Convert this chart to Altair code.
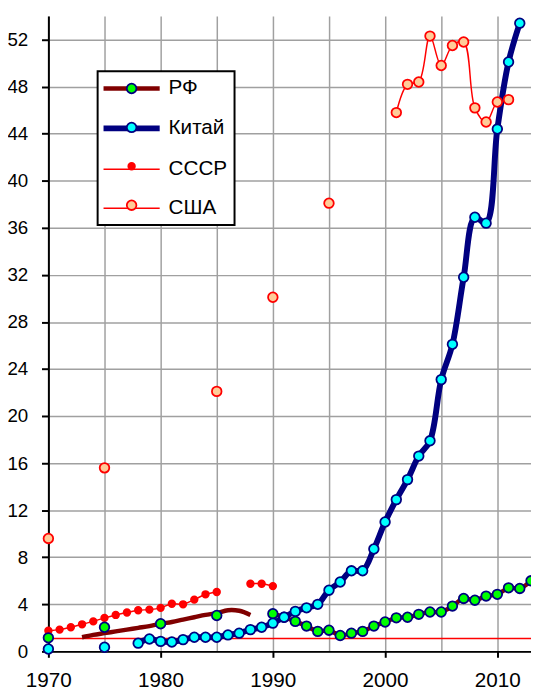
import altair as alt
import pandas as pd

# ---- data ----
series_names = ["РФ", "Китай", "СССР", "США"]
line_colors = ["#800000", "#000080", "#ff0000", "#ff0000"]
line_widths = [4.5, 6, 1.5, 1.5]
marker_fill = ["#00ff00", "#00ffff", "#ff0000", "#ffcc99"]
marker_stroke = ["#000080", "#000080", "#ff0000", "#ff0000"]
marker_size = [95, 95, 45, 95]

rf_years = [1970, 1975, 1980, 1985,
            1990, 1991, 1992, 1993, 1994, 1995, 1996, 1997, 1998, 1999,
            2000, 2001, 2002, 2003, 2004, 2005, 2006, 2007, 2008, 2009,
            2010, 2011, 2012, 2013]
rf_values = [1.15, 2.05, 2.35, 3.05,
             3.2, 2.9, 2.55, 2.15, 1.7, 1.8, 1.35, 1.55, 1.7, 2.15,
             2.5, 2.85, 2.9, 3.15, 3.35, 3.35, 3.85, 4.5, 4.35, 4.7,
             4.85, 5.4, 5.35, 6.0]

rf_trend_years = [1973, 1974, 1975, 1976, 1977, 1978, 1979, 1980,
                  1981, 1982, 1983, 1984, 1985, 1986, 1987, 1988]
rf_trend_values = [1.2, 1.4, 1.55, 1.7, 1.85, 2.0, 2.15, 2.35,
                   2.5, 2.7, 2.9, 3.1, 3.25, 3.5, 3.45, 3.1]

cn_years = [1970, 1975, 1978, 1979, 1980, 1981, 1982, 1983, 1984, 1985,
            1986, 1987, 1988, 1989, 1990, 1991, 1992, 1993, 1994, 1995,
            1996, 1997, 1998, 1999, 2000, 2001, 2002, 2003, 2004, 2005,
            2006, 2007, 2008, 2009, 2010, 2011, 2012]
cn_values = [0.2, 0.35, 0.7, 1.05, 0.85, 0.8, 1.0, 1.2, 1.2, 1.2,
             1.4, 1.55, 1.85, 2.05, 2.4, 2.9, 3.4, 3.7, 4.0, 5.2,
             5.9, 6.85, 6.85, 8.7, 11.0, 12.9, 14.6, 16.6, 17.9, 23.1,
             26.1, 31.8, 36.9, 36.4, 44.4, 50.1, 53.4]

su_years = [1970, 1971, 1972, 1973, 1974, 1975, 1976, 1977, 1978, 1979,
            1980, 1981, 1982, 1983, 1984, 1985, 1988, 1989, 1990]
su_values = [1.75, 1.85, 2.05, 2.3, 2.55, 2.85, 3.1, 3.3, 3.5, 3.55,
             3.7, 4.05, 4.0, 4.4, 4.85, 5.05, 5.75, 5.75, 5.55]

us_years = [1970, 1975, 1985, 1990, 1995,
            2001, 2002, 2003, 2004, 2005, 2006, 2007, 2008, 2009, 2010, 2011]
us_values = [9.6, 15.6, 22.1, 30.1, 38.1,
             45.8, 48.2, 48.4, 52.3, 49.8, 51.5, 51.8, 46.2, 45.0, 46.7, 46.9]

ref_level = [1.1]

x_ticks = [1970, 1975, 1980, 1985, 1990, 1995, 2000, 2005, 2010]
y_ticks = list(range(0, 56, 2))

# ---- build table ----
lw_of = dict(zip(series_names, line_widths))
ms_of = dict(zip(series_names, marker_size))
rows = []


def add(series, years, values, marker, tag):
    seg = 0
    prev = None
    for yr, v in zip(years, values):
        if prev is not None and yr - prev > 1:
            seg += 1
        rows.append({"series": series, "year": yr, "value": v,
                     "seg": f"{tag}{seg}", "marker": marker,
                     "lw": lw_of[series], "ms": ms_of[series]})
        prev = yr


add("США", us_years, us_values, True, "us")
add("СССР", su_years, su_values, True, "su")
add("РФ", rf_trend_years, rf_trend_values, False, "rft")
add("РФ", rf_years, rf_values, True, "rf")
add("Китай", cn_years, cn_values, True, "cn")
df = pd.DataFrame(rows)
ref_df = pd.DataFrame({"level": ref_level})


def per_entry(values):
    # expression choosing a value per legend entry
    expr = str(values[-1])
    for name, v in reversed(list(zip(series_names[:-1], values[:-1]))):
        expr = f"datum.value === '{name}' ? {v} : ({expr})"
    return {"expr": expr}


FONT = "Liberation Sans"

x_enc = alt.X(
    "year:Q",
    scale=alt.Scale(domain=[1970, 2013], nice=False, zero=False),
    axis=alt.Axis(
        values=x_ticks, format="d",
        labelExpr="datum.value % 10 === 0 ? datum.label : ''",
        grid=True, gridColor="#a0a0a0", gridWidth=1.5,
        domainColor="black", domainWidth=2,
        tickColor="black", tickWidth=2,
        tickSize={"condition": {"test": "datum.value % 10 === 0", "value": 6}, "value": 0},
        labelFontSize=21, labelFont=FONT, labelColor="black", labelPadding=13,
        labelFlush=False, labelOverlap=False, title=None,
    ),
)
y_enc = alt.Y(
    "value:Q",
    scale=alt.Scale(domain=[0, 54], nice=False, zero=True),
    axis=alt.Axis(
        values=y_ticks,
        labelExpr="datum.value % 4 === 0 ? datum.label : ''",
        grid=True, gridColor="#a0a0a0", gridWidth=1.5,
        domainColor="black", domainWidth=2,
        tickColor="black", tickWidth=2,
        tickSize={"condition": {"test": "datum.value % 4 === 0", "value": 7}, "value": 4},
        labelFontSize=19, labelFont=FONT, labelColor="black", labelPadding=14,
        labelFlush=False, labelOverlap=False, title=None,
    ),
)

common_legend = dict(
    title=None, orient="none", legendX=50, legendY=56,
    labelFontSize=21, labelFont=FONT, labelColor="black",
    padding=7, rowPadding=17.5, symbolOffset=17, labelOffset=27,
)

line_legend = alt.Legend(
    symbolType="M-5,0L5,0", symbolSize=130,
    symbolStrokeWidth=per_entry(line_widths),
    fillColor="white", strokeColor="black", zindex=1,
    **common_legend,
)
point_legend = alt.Legend(
    symbolType="circle", symbolStrokeWidth=1.8, symbolOpacity=1,
    symbolSize=per_entry(marker_size),
    labelExpr="''", zindex=2,
    **common_legend,
)

rule = alt.Chart(ref_df).mark_rule(color="#ff0000", strokeWidth=1.5).encode(
    y=alt.Y("level:Q")
)

lines = alt.Chart(df).mark_line(interpolate="catmull-rom", strokeCap="butt").encode(
    x=x_enc,
    y=y_enc,
    detail="seg:N",
    stroke=alt.Stroke("series:N", scale=alt.Scale(domain=series_names, range=line_colors),
                      legend=line_legend),
    strokeWidth=alt.StrokeWidth("lw:Q", scale=None),
)

points = alt.Chart(df).transform_filter("datum.marker").mark_circle(
    opacity=1, strokeWidth=1.8
).encode(
    x="year:Q",
    y="value:Q",
    fill=alt.Fill("series:N", scale=alt.Scale(domain=series_names, range=marker_fill),
                  legend=point_legend),
    stroke=alt.Stroke("series:N", scale=alt.Scale(domain=series_names, range=marker_stroke),
                      legend=point_legend),
    size=alt.Size("ms:Q", scale=None),
)

chart = alt.layer(rule, lines, points).resolve_scale(
    stroke="independent", fill="independent"
).properties(
    width=490, height=645,
    autosize=alt.AutoSizeParams(type="none"),
    padding={"left": 41, "top": 3, "right": 0, "bottom": 35},
).configure(
    font=FONT
).configure_view(
    strokeWidth=0
).configure_legend(
    strokeWidth=2
)

chart.save("out.html", embed_options={"renderer": "svg", "actions": False})
